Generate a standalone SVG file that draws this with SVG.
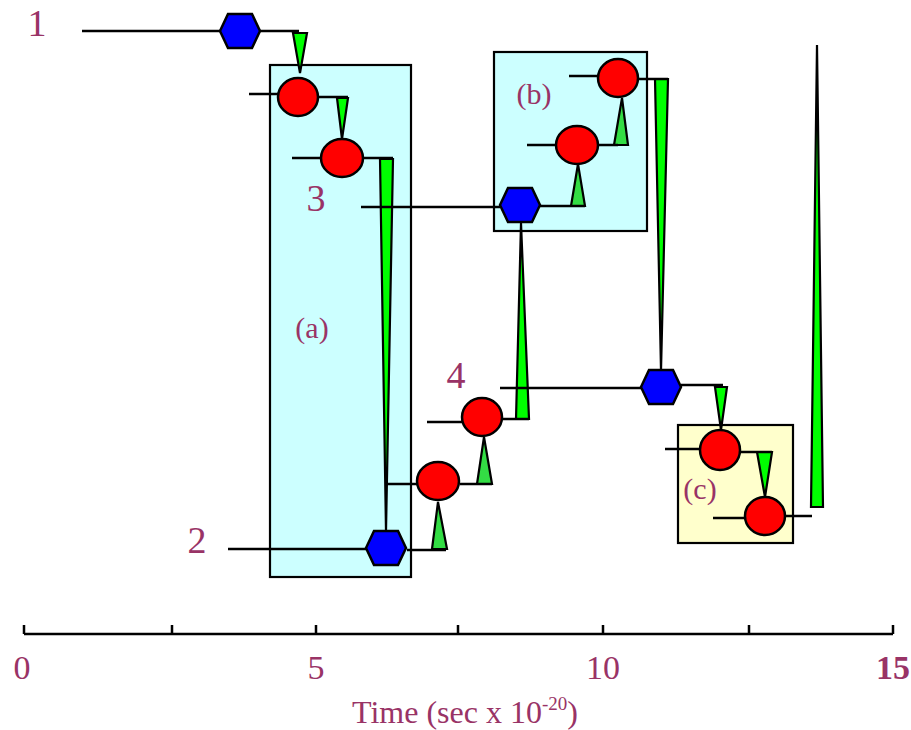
<svg xmlns="http://www.w3.org/2000/svg" width="911" height="730" viewBox="0 0 911 730">
<style>
.box{stroke:#000;stroke-width:2.2}
.ln{stroke:#000;stroke-width:2.5;fill:none}
.wd{fill:#00FF00;stroke:#000;stroke-width:2.2;stroke-linejoin:miter}
.wu{fill:#33DD44;stroke:#000;stroke-width:2.2}
.circ{fill:#FF0000;stroke:#000;stroke-width:2.5}
.hex{fill:#0000FF;stroke:#000;stroke-width:2.5}
.lbl{font-family:"Liberation Serif","Times New Roman",serif;fill:#993366;text-anchor:middle}
.big{font-size:38px}
.mid{font-size:30px}
.ax{font-size:34px}
</style>
<defs>
<path id="hexshape" d="M-20,0 L-12,-17 L12,-17 L20,0 L12,17 L-12,17 Z"/>
</defs>
<rect width="911" height="730" fill="#fff"/>
<g id="regions">
<rect id="box-a" class="box" x="270" y="65" width="141" height="512" fill="#CCFFFF"/>
<rect id="box-b" class="box" x="494" y="52" width="153" height="179" fill="#CCFFFF"/>
<rect id="box-c" class="box" x="678" y="425" width="115" height="118" fill="#FFFFCC"/>
</g>
<g id="connectors">
<polygon class="wd" points="293,33 307,33 300,73"/>
<polygon class="wd" points="337,98 348,98 342,139"/>
<polygon class="wd" points="380,159 393,159 386,531"/>
<polygon class="wu" points="432,549 447,549 438,502"/>
<polygon class="wu" points="477,484 492,484 484,437"/>
<polygon class="wd" points="516,419 529,419 521,223"/>
<polygon class="wu" points="571,206 585,206 578,164"/>
<polygon class="wu" points="614,145 628,145 622,98"/>
<polygon class="wd" points="655,79 668,79 661,371"/>
<polygon class="wd" points="715,387 727,387 721,430"/>
<polygon class="wd" points="757,452 772,452 765,497"/>
<polygon class="wd" points="811,507 823,507 817,45"/>
<path class="ln" d="M82,31H299 M249,94H278 M318,97H348 M292,158H321 M364,158H393 M361,207H500 M540,206H585 M527,145H556 M598,145H618 M569,76H598 M638,79H668 M500,388H641 M681,385H723 M665,449H699 M740,452H772 M713,518H745 M786,516H812 M427,422H462 M503,419H529 M387,484H417 M460,484H492 M228,549H366 M407,550H446"/>
</g>
<g id="n-h1"><use href="#hexshape" class="hex" x="240" y="31"/></g>
<g id="n-1"><ellipse class="circ" cx="298" cy="97" rx="20" ry="19"/></g>
<g id="n-2"><ellipse class="circ" cx="342" cy="158" rx="21" ry="19"/></g>
<g id="n-h2"><use href="#hexshape" class="hex" x="520" y="205"/></g>
<g id="n-b1"><ellipse class="circ" cx="577" cy="145" rx="21" ry="19"/></g>
<g id="n-b2"><ellipse class="circ" cx="618" cy="78" rx="20" ry="19"/></g>
<g id="n-h3"><use href="#hexshape" class="hex" x="661" y="387"/></g>
<g id="n-c1"><ellipse class="circ" cx="720" cy="450" rx="20" ry="20"/></g>
<g id="n-c2"><ellipse class="circ" cx="765" cy="516" rx="20" ry="19"/></g>
<g id="n-h4"><use href="#hexshape" class="hex" x="386" y="548"/></g>
<g id="n-d1"><ellipse class="circ" cx="438" cy="481" rx="21" ry="19"/></g>
<g id="n-d2"><ellipse class="circ" cx="482" cy="417" rx="20" ry="19"/></g>
<g id="labels">
<text class="lbl big" x="37" y="36">1</text>
<text class="lbl big" x="197" y="553">2</text>
<text class="lbl big" x="316" y="211">3</text>
<text class="lbl big" x="456" y="388">4</text>
<text class="lbl mid" x="312" y="338">(a)</text>
<text class="lbl mid" x="534" y="104">(b)</text>
<text class="lbl mid" x="700" y="499">(c)</text>
</g>
<g id="axis">
<path class="ln" d="M24,634H893 M24,625V634 M172,625V634 M316,625V634 M458,625V634 M603,625V634 M749,625V634 M893,625V634"/>
<text class="lbl ax" x="22" y="679">0</text>
<text class="lbl ax" x="316" y="679">5</text>
<text class="lbl ax" x="603" y="679">10</text>
<text class="lbl ax" x="893" y="679" font-weight="bold">15</text>
<text class="lbl" font-size="32" x="465" y="723">Time (sec x 10<tspan font-size="19" dy="-13">-20</tspan><tspan dy="13">)</tspan></text>
</g>
</svg>
